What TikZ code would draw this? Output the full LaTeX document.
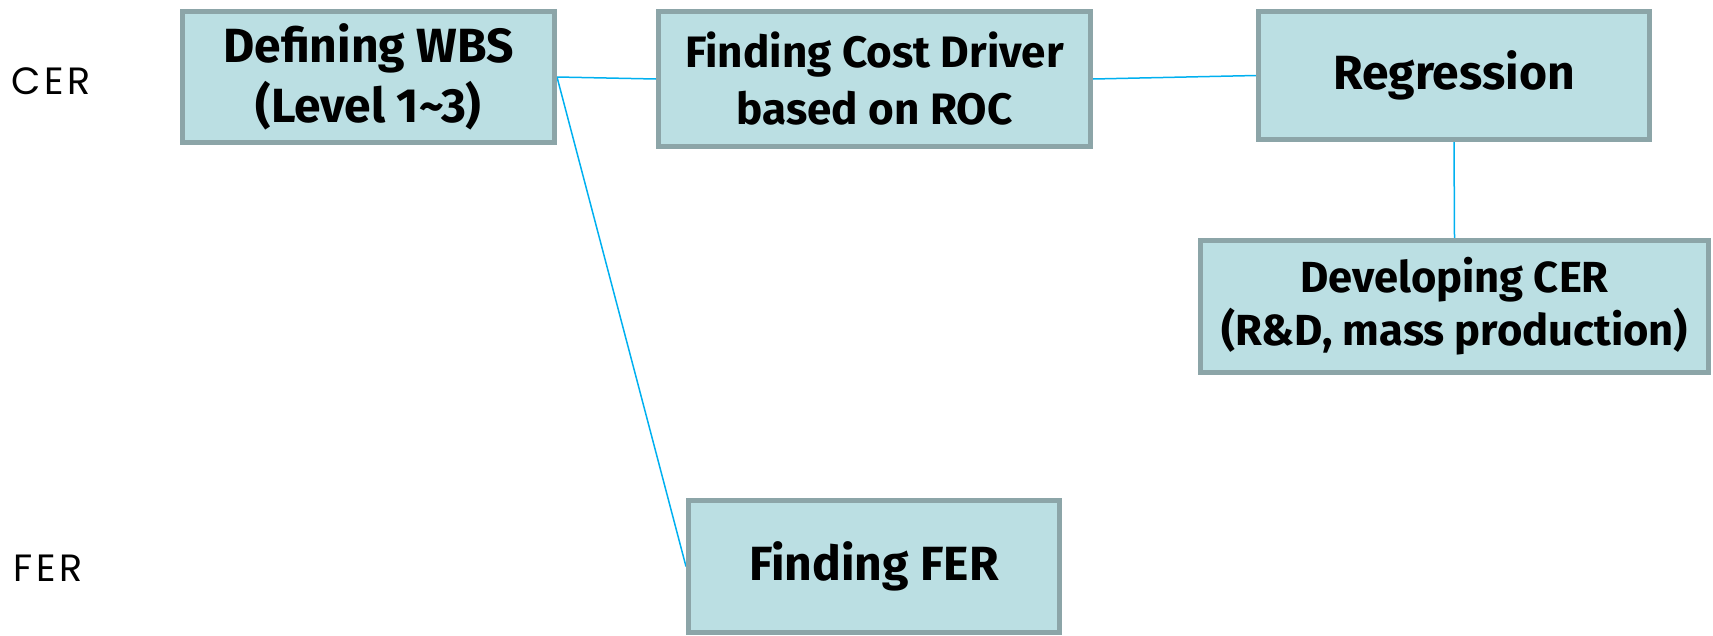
\documentclass[tikz,border=0pt]{standalone}
\usepackage{fontspec}
\setmainfont{Fira Sans}
\newfontfamily\labfont[LetterSpace=10]{Poppins}
\usetikzlibrary{backgrounds}
\definecolor{boxfill}{HTML}{BBDFE3}
\definecolor{boxline}{HTML}{8CA5A8}
\definecolor{conn}{HTML}{00B0F0}
\begin{document}
\begin{tikzpicture}[x=1pt,y=-1pt,
  stepbox/.style={draw=boxline, fill=boxfill, line width=5pt, align=center, inner sep=0pt,
    font=\fontsize{48}{60}\selectfont\bfseries},
  smalltext/.style={font=\fontsize{44}{57}\selectfont\bfseries},
  sidelabel/.style={font=\labfont\fontsize{38}{44}\selectfont, anchor=west, inner sep=0pt},
  link/.style={draw=conn, line width=1.5pt}]
\useasboundingbox (0,0) rectangle (1713,635);
\node[stepbox, minimum width=372pt, minimum height=131pt] (wbs) at (368.5,77) {Defining WBS\\(Level 1\textasciitilde3)};
\node[stepbox, smalltext, minimum width=432pt, minimum height=135pt] (cost) at (874.5,79) {Finding Cost Driver\\based on ROC};
\node[stepbox, minimum width=391pt, minimum height=128pt] (reg) at (1454,75.5) {Regression};
\node[stepbox, font=\fontsize{43.5}{53}\selectfont\bfseries, minimum width=508pt, minimum height=132pt] (dev) at (1454.5,306.5) {Developing CER\\(R\&D, mass production)};
\node[stepbox, minimum width=371pt, minimum height=132pt] (fer) at (874,566.5) {Finding FER};
\node[sidelabel] (cer) at (11,81) {CER};
\node[sidelabel] (ferl) at (13,568) {FER};
\begin{scope}[on background layer]
\draw[link] (wbs.east) -- (cost.west);
\draw[link] (cost.east) -- (reg.west);
\draw[link] (wbs.east) -- (fer.west);
\draw[link] (reg.south) -- (dev.north);
\end{scope}
\end{tikzpicture}
\end{document}
